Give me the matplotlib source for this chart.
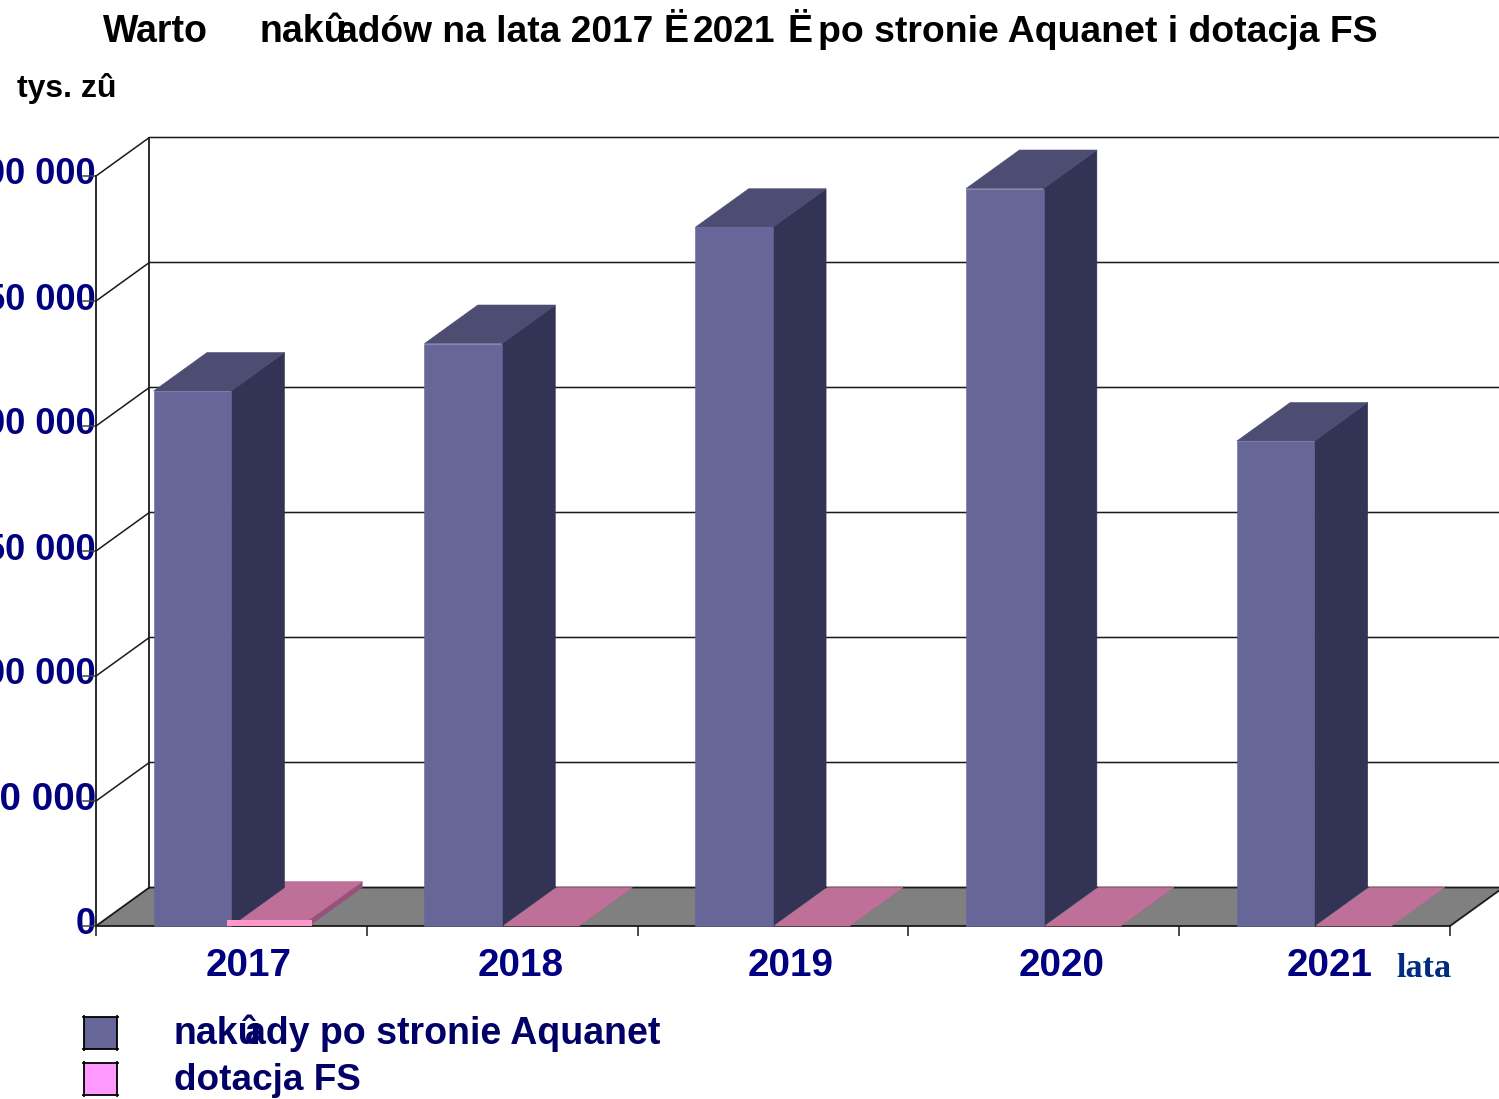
import matplotlib
matplotlib.use('Agg')
import matplotlib.pyplot as plt
from matplotlib.lines import Line2D
from matplotlib.patches import Rectangle
from matplotlib.transforms import ScaledTranslation

years = ['2017', '2018', '2019', '2020', '2021']
naklady = [214000, 233000, 279500, 295000, 194000]
dotacja = [2400, 0, 0, 0, 0]
y_ticks = [0, 50000, 100000, 150000, 200000, 250000, 300000]
y_labels = ['0', '50 000', '100 000', '150 000', '200 000', '250 000', '300 000']

W, H = 1499, 1099
# depth of the fake 3D box, in data units
DX = 0.197
DY = 15400
BAR_W = 0.286
PINK_W = 0.278
NAVY = '#000080'
DARK = '#000066'
FONT = 'Liberation Sans'
LINE = '#1a1a1a'


def box(ax, x, w, val, side, top, z):
    xs = [x + w, x + w + DX, x + w + DX, x + w]
    ax.fill(xs, [0, DY, val + DY, val], color=side, lw=0.4, zorder=z, clip_on=False)
    ax.fill([x, x + DX, x + w + DX, x + w], [val, val + DY, val + DY, val],
            color=top, lw=0.4, zorder=z, clip_on=False)


def px_text(fig, x, y, s, size, color='black', family=FONT):
    fig.text(x / W, 1 - y / H, s, fontsize=size, fontweight='bold', color=color,
             family=family, ha='left', va='baseline')


fig = plt.figure(figsize=(14.99, 10.99), dpi=100)
ax = fig.add_axes([96 / W, (H - 926) / H, (1450 - 96) / W, 750 / H])
ax.set_xlim(0, 5)
ax.set_ylim(0, 300000)
ax.patch.set_alpha(0)
ax.set_axisbelow(True)

# floor and walls
ax.fill([0, DX, 5 + DX, 5], [0, DY, DY, 0], color='#808080', lw=0, zorder=1, clip_on=False)
ax.plot([0, DX, 5 + DX], [0, DY, DY], color=LINE, lw=1.3, zorder=1.5, clip_on=False)
ax.plot([5, 5 + DX], [0, DY], color=LINE, lw=1.3, zorder=1.5, clip_on=False)
ax.plot([DX, DX], [DY, 300000 + DY], color=LINE, lw=1.3, zorder=1.5, clip_on=False)
for t in y_ticks[1:]:
    ax.plot([0, DX, 5 + DX], [t, t + DY, t + DY], color=LINE, lw=1.1, zorder=1.2, clip_on=False)
# the tick stubs run over the labels
for t in y_ticks:
    ax.plot([-0.047, 0], [t, t], color='#444444', lw=1.1, zorder=1.3, clip_on=False)

# bars, painted left to right
for i in range(len(years)):
    if dotacja[i] > 0:
        box(ax, i + 0.5, BAR_W, dotacja[i], '#96527a', '#bf7099', 2.5 + i)
        ax.bar(i + 0.484, dotacja[i], 0.314, align='edge', color='#ff99cc', zorder=4.7 + i, clip_on=False)
    else:
        box(ax, i + 0.505, PINK_W, dotacja[i], '#96527a', '#bf7099', 2.5)
    box(ax, i + 0.213, BAR_W, naklady[i], '#333355', '#4d4d73', 3 + i)
    ax.bar(i + 0.213, naklady[i], BAR_W, align='edge', color='#666699', edgecolor='#666699', lw=0.4,
           zorder=3.1 + i, clip_on=False)

for s in ['top', 'right']:
    ax.spines[s].set_visible(False)
for s in ['left', 'bottom']:
    ax.spines[s].set_linewidth(1.3)
    ax.spines[s].set_color(LINE)
    ax.spines[s].set_zorder(2)

ax.set_yticks(y_ticks)
ax.set_yticklabels(y_labels, fontsize=26, fontweight='bold', color=NAVY, family=FONT)
ax.tick_params(axis='y', length=0, pad=0)
up = ScaledTranslation(0, 5 / 100, fig.dpi_scale_trans)
for lab in ax.get_yticklabels():
    lab.set_transform(lab.get_transform() + up)
ax.get_yticklabels()[1].set_fontsize(27.8)

ax.set_xticks(range(6))
ax.set_xticklabels([])
ax.tick_params(axis='x', which='major', length=7, width=1.1, color=LINE)
ax.set_xticks([0.563, 1.57, 2.565, 3.567, 4.556], minor=True)
ax.set_xticklabels(years, minor=True, fontsize=27.8, fontweight='bold', color=NAVY, family=FONT)
ax.tick_params(axis='x', which='minor', length=0, pad=16)

# title, the broken glyphs of the source are kept as they are
px_text(fig, 103, 42, 'Warto', 27)
px_text(fig, 260, 42, 'nakû', 27)
px_text(fig, 337, 42, 'adów na lata 2017', 26.7)
px_text(fig, 663, 42, 'Ë', 27)
px_text(fig, 693, 42, '2021', 26.7)
px_text(fig, 787, 42, 'Ë', 27)
px_text(fig, 818, 42, 'po stronie Aquanet i dotacja FS', 26.9)
px_text(fig, 17, 97, 'tys. zû', 23)
px_text(fig, 1396, 977, 'lata', 24.6, '#002b7f', 'Liberation Serif')

# legend swatches, the frame lines overshoot the corners a little
for y0, col in [(1017, '#666699'), (1063, '#ff99ff')]:
    fig.add_artist(Rectangle((84 / W, 1 - (y0 + 32) / H), 33 / W, 32 / H, transform=fig.transFigure,
                             facecolor=col, edgecolor='none'))
    for yy in (y0, y0 + 32):
        fig.add_artist(Line2D([83 / W, 118 / W], [1 - yy / H] * 2, color='black', lw=1.3))
    for xx in (84, 117):
        fig.add_artist(Line2D([xx / W] * 2, [1 - (y0 - 1) / H, 1 - (y0 + 33) / H], color='black', lw=1.3))
px_text(fig, 173, 1044, 'nakû', 27, DARK)
px_text(fig, 245, 1044, 'ady po stronie Aquanet', 27, DARK)
px_text(fig, 174, 1090, 'dotacja FS', 26.6, DARK)

fig.savefig('out.png', dpi=100)
